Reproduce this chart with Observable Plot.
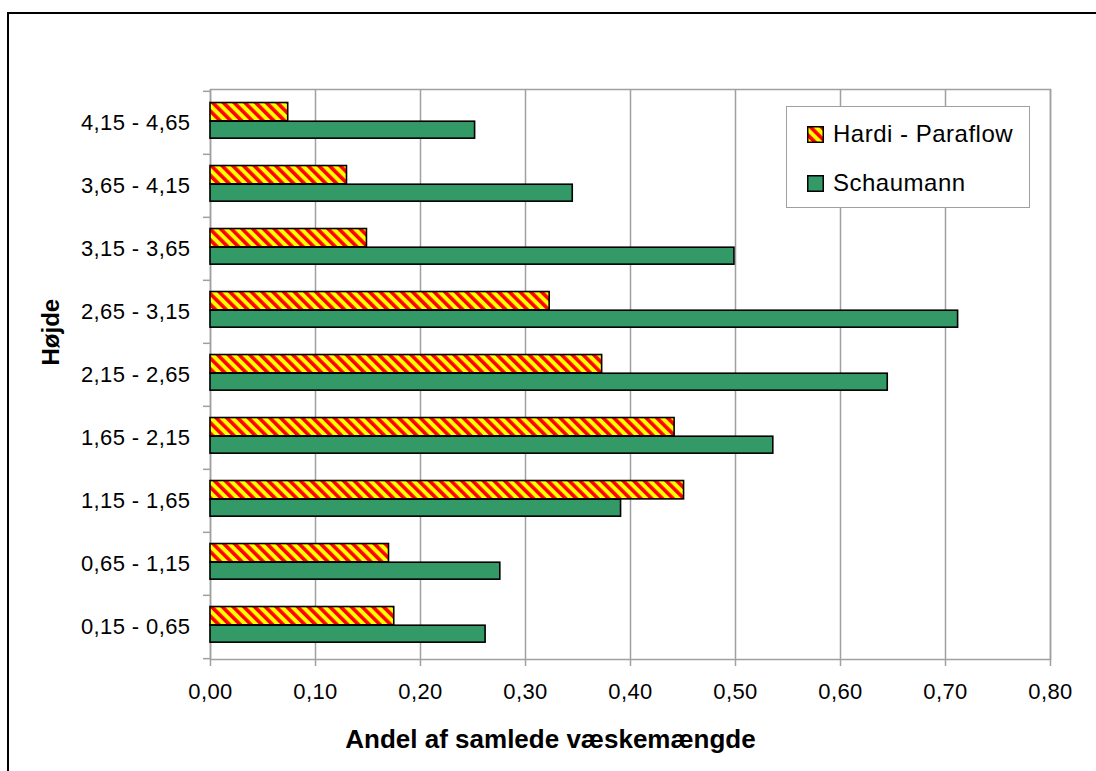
<!DOCTYPE html>
<html>
<head>
<meta charset="utf-8">
<script src="https://cdn.jsdelivr.net/npm/d3@7"></script>
<script src="https://cdn.jsdelivr.net/npm/@observablehq/plot@0.6"></script>
<style>
  html, body { margin: 0; padding: 0; background: #fff; overflow: hidden; }
  #wrap { position: relative; width: 1096px; height: 771px; font-family: Arial, "Liberation Sans", sans-serif; }
  #outer { position: absolute; left: 7px; top: 12px; width: 1200px; height: 900px; border: 2px solid #000; box-sizing: border-box; }
  #chart { position: absolute; left: 0; top: 0; }
  #chart svg g[aria-label="y-axis tick label"] text,
  #chart svg g[aria-label="x-axis tick label"] text { letter-spacing: 0.4px; }
  #legend { position: absolute; left: 786px; top: 106px; width: 244px; height: 102px; box-sizing: border-box;
            border: 1.5px solid #a0a0a0; background: #fff; }
  #legend .row { position: absolute; left: 20px; display: flex; align-items: center; font-size: 24px; color: #000; letter-spacing: 0.5px; }
  #legend .row svg { margin-right: 9px; }
</style>
</head>
<body>
<div id="wrap">
  <div id="outer"></div>
  <div id="chart"></div>
  <div id="legend"></div>
</div>
<script>
// ---- data ----
const categories = ["4,15 - 4,65","3,65 - 4,15","3,15 - 3,65","2,65 - 3,15","2,15 - 2,65","1,65 - 2,15","1,15 - 1,65","0,65 - 1,15","0,15 - 0,65"];
const seriesNames = ["Hardi - Paraflow", "Schaumann"];
const hardi =     [0.074, 0.130, 0.149, 0.323, 0.373, 0.442, 0.451, 0.170, 0.175];
const schaumann = [0.252, 0.345, 0.499, 0.712, 0.645, 0.536, 0.391, 0.276, 0.262];
const xTicks = [0, 0.1, 0.2, 0.3, 0.4, 0.5, 0.6, 0.7, 0.8];
const xTitle = "Andel af samlede væskemængde";
const yTitle = "Højde";

// ---- layout ----
const W = 1096, H = 771;
const mL = 210, mR = 46, mT = 89, mB = 112;
const band = (H - mT - mB) / categories.length;
const grid = "#a0a0a0";
const green = "#339966";

const rowsH = categories.map((c, i) => ({category: c, value: hardi[i]}));
const rowsS = categories.map((c, i) => ({category: c, value: schaumann[i]}));
const fmt = d => d3.format(".2f")(d).replace(".", ",");

const chart = Plot.plot({
  width: W, height: H,
  marginLeft: mL, marginRight: mR, marginTop: mT, marginBottom: mB,
  style: {fontFamily: 'Arial, "Liberation Sans", sans-serif', fontSize: "22px", color: "#000", background: "transparent"},
  x: {domain: [0, 0.8]},
  y: {domain: categories, padding: 0},
  marks: [
    Plot.gridX(xTicks, {stroke: grid, strokeOpacity: 1, strokeWidth: 1.5}),
    Plot.frame({stroke: grid, strokeWidth: 1.5}),
    Plot.barX(rowsH, {x: "value", y: "category", fill: "url(#hatch)", stroke: "#000", strokeWidth: 1.6,
      insetTop: band * 0.182, insetBottom: band * 0.523}),
    Plot.barX(rowsS, {x: "value", y: "category", fill: green, stroke: "#000", strokeWidth: 1.6,
      insetTop: band * 0.477, insetBottom: band * 0.25}),
    Plot.axisX({ticks: xTicks, tickSize: 7, tickPadding: 17, tickFormat: fmt, stroke: grid, strokeWidth: 1.5, label: null}),
    Plot.axisY({tickSize: 0, tickPadding: 20, label: null}),
    Plot.axisY({ticks: categories, tickSize: 7, dy: -band / 2, tickFormat: () => null, stroke: grid, strokeWidth: 1.5, label: null}),
    Plot.axisY({ticks: categories.slice(-1), tickSize: 7, dy: band / 2, tickFormat: () => null, stroke: grid, strokeWidth: 1.5, label: null}),
    Plot.text([xTitle], {frameAnchor: "bottom", dx: -80, dy: 80, fontWeight: "bold", fontSize: 26, lineAnchor: "middle"}),
    Plot.text([yTitle], {frameAnchor: "left", rotate: -90, dx: -159, dy: -9, fontWeight: "bold", fontSize: 24, lineAnchor: "middle"})
  ]
});

// hatch pattern definition
const defs = d3.select(chart).insert("defs", ":first-child");
const pat = defs.append("pattern").attr("id", "hatch").attr("patternUnits", "userSpaceOnUse")
  .attr("width", 7.6).attr("height", 7.6).attr("patternTransform", "rotate(-45)");
pat.append("rect").attr("width", 7.6).attr("height", 7.6).attr("fill", "#ffff00");
pat.append("rect").attr("width", 3.6).attr("height", 7.6).attr("fill", "#ff0000");

document.getElementById("chart").appendChild(chart);

// legend
const legend = document.getElementById("legend");
const fills = ["url(#hatch)", green];
const rowTops = [13, 62];
seriesNames.forEach((name, i) => {
  const row = document.createElement("div");
  row.className = "row";
  row.style.top = rowTops[i] + "px";
  row.innerHTML = `<svg width="17" height="17"><rect x="0.75" y="0.75" width="15.5" height="15.5" fill="${fills[i]}" stroke="#000" stroke-width="1.5"/></svg><span>${name}</span>`;
  legend.appendChild(row);
});
</script>
</body>
</html>
